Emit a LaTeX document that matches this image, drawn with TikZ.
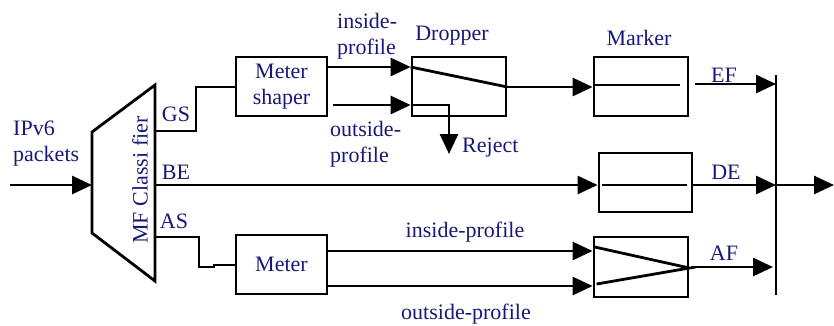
\documentclass[tikz,border=0pt]{standalone}
\usepackage{fontspec}
\setmainfont{Liberation Serif}
\usepackage{tikz}
\usetikzlibrary{arrows.meta,positioning,calc}
\definecolor{lblblue}{RGB}{24,24,120}

\begin{document}
\begin{tikzpicture}[x=1pt,y=-1pt,
    font=\fontsize{22}{26}\selectfont,
    blk/.style={draw,line width=2.8pt,inner sep=0pt,align=center,text=lblblue},
    wire/.style={line width=2.8pt},
    flow/.style={wire,-{Triangle[length=20pt,width=18pt]}},
    lbl/.style={lblblue,inner sep=0pt,align=left}]
  % canvas = pixels of the reference, y grows downward
  \useasboundingbox (0,0) rectangle (834,325);
  % classifier (trapezoid)
  \draw[wire] (92,132) -- (155,85) -- (155,281) -- (92,233) -- cycle;
  \coordinate (cin) at (92,185);
  \coordinate (cgs) at (155,131);
  \coordinate (cbe) at (155,185);
  \coordinate (cas) at (155,237);
  \node[lbl,rotate=90] (mfc) at (140,180) {MF Classi fier};
  % boxes
  \node[blk,minimum width=91,minimum height=59] (shaper) at (281.5,86.5) {Meter\\shaper};
  \node[blk,minimum width=94,minimum height=59] (dropper) at (459,86.5) {};
  \node[blk,minimum width=94,minimum height=59] (marker) at (641,86.5) {};
  \node[blk,minimum width=93,minimum height=59] (debox) at (645.5,182.5) {};
  \node[blk,minimum width=91,minimum height=59] (meter) at (281.5,264.5) {Meter};
  \node[blk,minimum width=94,minimum height=60] (afbox) at (641,267) {};
  % output bus
  \coordinate (bustop) at (776,75);
  \coordinate (busbot) at (776,295);
  \coordinate (out) at (834,185);
  \draw[wire] (bustop) -- (busbot);
  % input
  \coordinate (src) at (10,185);
  \draw[flow] (src) -- (cin);
  \node[lbl,anchor=west] (ipv6) at (13,144) {IPv6\\packets};
  % GS branch
  \draw[wire] (cgs) -- (196,131) -- (196,87) -- (shaper.west |- 0,87);
  \draw[flow] (shaper.east |- 0,67) -- (dropper.west |- 0,67);
  \draw[flow] ([xshift=5pt]shaper.east |- 0,105) -- (dropper.west |- 0,105);
  \draw[wire] (dropper.west |- 0,67) -- (dropper.east |- 0,87);
  \draw[flow] (dropper.east |- 0,87) -- (marker.west |- 0,87);
  \coordinate (rej) at (449,154);
  \draw[flow] (dropper.west |- 0,105) -- (rej |- 0,105) -- (rej);
  \draw[wire] (marker.west |- 0,85) -- ([xshift=-9pt]marker.east |- 0,85);
  \draw[flow] ([xshift=6pt]marker.east |- 0,84) -- (bustop |- 0,84);
  % BE branch
  \draw[flow] (cbe) -- (debox.west |- 0,185);
  \draw[wire] ([xshift=4pt]debox.west |- 0,185) -- ([xshift=-6pt]debox.east |- 0,185);
  \draw[flow] (debox.east |- 0,185) -- (bustop |- 0,185);
  \draw[flow] (bustop |- 0,185) -- (out);
  % AS branch
  \draw[wire] (cas) -- (199,237) -- (199,267) -- (214,267) -- (214,265) -- (meter.west |- 0,265);
  \draw[flow] (meter.east |- 0,251) -- (afbox.west |- 0,251);
  \draw[flow] (meter.east |- 0,286) -- (afbox.west |- 0,286);
  \draw[wire] ([xshift=2pt]afbox.west |- 0,247) -- (afbox.east |- 0,268)
    -- ([xshift=4pt]afbox.west |- 0,284);
  \draw[flow] ([xshift=2pt]afbox.east |- 0,267) -- ([xshift=-3pt]bustop |- 0,267);
  % labels
  \node[lbl] (lgs) at (176,114) {GS};
  \node[lbl] (lbe) at (176,172) {BE};
  \node[lbl] (las) at (174,221) {AS};
  \node[lbl,anchor=west] (lin1) at (337,36) {inside-\\profile};
  \node[lbl,anchor=west] (lout1) at (330,144) {outside-\\profile};
  \node[lbl] (ldrop) at (452,36) {Dropper};
  \node[lbl] (lmark) at (639,38) {Marker};
  \node[lbl,anchor=west] (lrej) at (462,148) {Reject};
  \node[lbl] (lef) at (724,75) {EF};
  \node[lbl] (lde) at (726,172) {DE};
  \node[lbl] (laf) at (724,253) {AF};
  \node[lbl] (lin2) at (465,232) {inside-profile};
  \node[lbl] (lout2) at (466,314) {outside-profile};
\end{tikzpicture}
\end{document}
